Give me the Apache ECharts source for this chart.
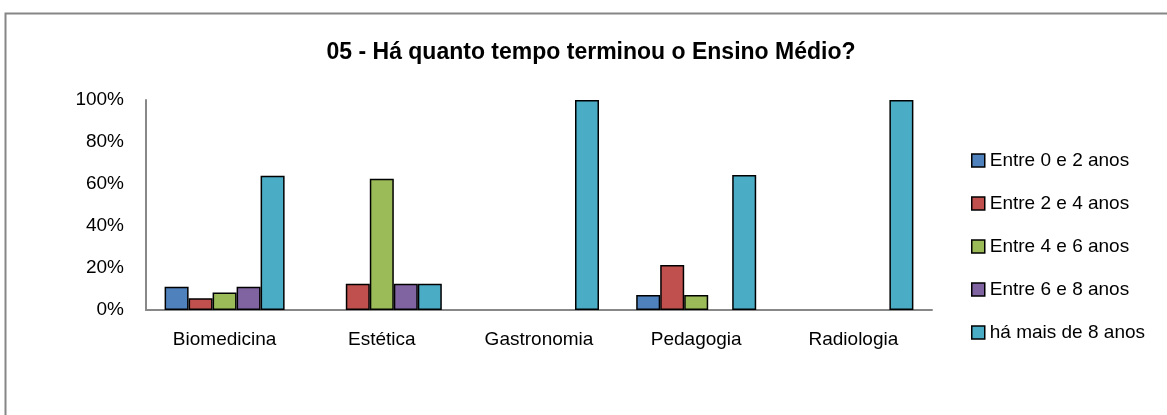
<!DOCTYPE html>
<html>
<head>
<meta charset="utf-8">
<script src="https://cdn.jsdelivr.net/npm/echarts@6/dist/echarts.min.js"></script>
<style>
  html, body { margin: 0; padding: 0; background: #fff; }
  #ch { width: 1167px; height: 415px; }
</style>
</head>
<body>
<div id="ch"></div>
<script>
var categories = ['Biomedicina', 'Estética', 'Gastronomia', 'Pedagogia', 'Radiologia'];
var seriesNames = ['Entre 0 e 2 anos', 'Entre 2 e 4 anos', 'Entre 4 e 6 anos', 'Entre 6 e 8 anos', 'há mais de 8 anos'];
var entre0e2 = [11.1, 0, 0, 7.1, 0];
var entre2e4 = [5.6, 12.5, 0, 21.4, 0];
var entre4e6 = [8.3, 62.5, 0, 7.1, 0];
var entre6e8 = [11.1, 12.5, 0, 0, 0];
var maisDe8 = [63.9, 12.5, 100, 64.3, 100];
var colors = ['#4F81BD', '#C0504D', '#9BBB59', '#8064A2', '#4BACC6'];

var font = "'Liberation Sans', Arial, sans-serif";
var Chart = echarts.init(document.getElementById('ch'));

// zero values draw nothing in the original
function bar(name, data) {
    return {
        name: name,
        type: 'bar',
        barWidth: 24,
        barGap: '0%',
        data: data.map(function (v) { return v === 0 ? '-' : v; }),
        itemStyle: { borderColor: '#000', borderWidth: 1.5 }
    };
}

var option = {
    animation: false,
    color: colors,
    title: {
        text: '05 - Há quanto tempo terminou o Ensino Médio?',
        left: 586,
        textAlign: 'center',
        top: 36,
        textStyle: { fontFamily: font, fontSize: 23, fontWeight: 'bold', color: '#000' }
    },
    legend: {
        orient: 'vertical',
        left: 966,
        top: 146,
        itemWidth: 13,
        itemHeight: 13,
        itemGap: 24,
        icon: 'rect',
        data: seriesNames,
        itemStyle: { borderColor: '#000', borderWidth: 1.5 },
        textStyle: { fontFamily: font, fontSize: 19, color: '#000' }
    },
    grid: { left: 146, right: 235, top: 100, bottom: 105 },
    xAxis: {
        type: 'category',
        data: categories,
        axisLine: { lineStyle: { color: '#888', width: 2 } },
        axisTick: { show: false },
        axisLabel: { fontFamily: font, fontSize: 19, color: '#000', margin: 20 }
    },
    yAxis: {
        type: 'value',
        min: 0,
        max: 100,
        interval: 20,
        axisLine: { show: true, lineStyle: { color: '#888', width: 2 } },
        axisTick: { show: false },
        splitLine: { show: false },
        axisLabel: { fontFamily: font, fontSize: 19, color: '#000', margin: 22, formatter: '{value}%' }
    },
    graphic: [{
        type: 'rect',
        shape: { x: 5.5, y: 13.5, width: 1300, height: 600 },
        style: { fill: 'none', stroke: '#868686', lineWidth: 2 },
        silent: true
    }],
    series: [
        bar(seriesNames[0], entre0e2),
        bar(seriesNames[1], entre2e4),
        bar(seriesNames[2], entre4e6),
        bar(seriesNames[3], entre6e8),
        bar(seriesNames[4], maisDe8)
    ]
};
Chart.setOption(option);
</script>
</body>
</html>
